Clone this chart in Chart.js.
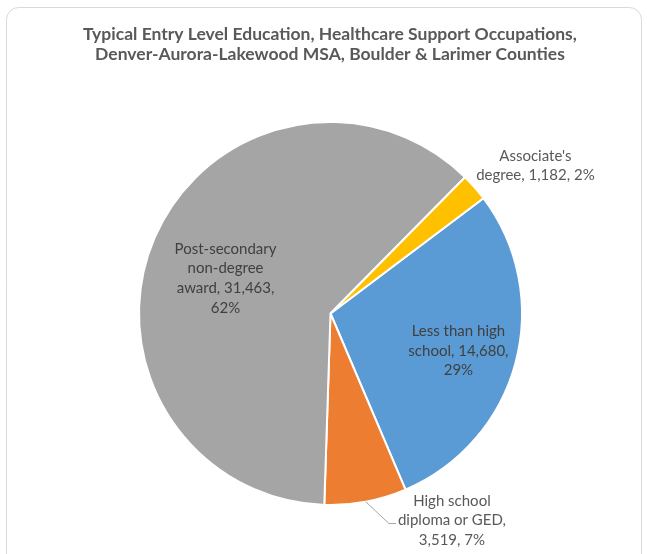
<!DOCTYPE html>
<html>
<head>
<meta charset="utf-8">
<script src="https://cdn.jsdelivr.net/npm/chart.js@4.4.0/dist/chart.umd.min.js"></script>
<style>
  html, body { margin: 0; padding: 0; background: #fff; }
  #wrap { width: 647px; height: 554px; }
</style>
</head>
<body>
<div id="wrap"><canvas id="education"></canvas></div>
<script>
const titleLines = [
  'Typical Entry Level Education, Healthcare Support Occupations,',
  'Denver-Aurora-Lakewood MSA, Boulder & Larimer Counties'
];
const categories = [
  'Less than high school',
  'High school diploma or GED',
  'Post-secondary non-degree award',
  "Associate's degree"
];
const workers = [14680, 3519, 31463, 1182];
const sliceColors = ['#5B9BD5', '#ED7D31', '#A5A5A5', '#FFC000'];
// how each data label wraps, as in the original
const labelBreaks = [
  ['Less than high', 'school, {v},', '{p}'],
  ['High school', 'diploma or GED,', '{v}, {p}'],
  ['Post-secondary', 'non-degree', 'award, {v},', '{p}'],
  ["Associate's", 'degree, {v}, {p}']
];

const total = workers.reduce((a, b) => a + b, 0);
const FONT = 'Lato, "Open Sans", sans-serif';

// label centre relative to the pie centre, in units of the radius
const labelSpots = [
  { dx: 0.668, dy: 0.195, inside: true },
  { dx: 0.634, dy: 1.081, leader: true },
  { dx: -0.548, dy: -0.183, inside: true },
  { dx: 1.07, dy: -0.772 }
];

const frame = {
  id: 'frame',
  beforeDraw(chart) {
    const ctx = chart.ctx;
    ctx.save();
    ctx.fillStyle = '#fff';
    ctx.fillRect(0, 0, chart.width, chart.height);
    ctx.strokeStyle = '#D9D9D9';
    ctx.lineWidth = 1;
    ctx.beginPath();
    ctx.roundRect(6.5, 7.5, 635, 600, 12);
    ctx.stroke();

    ctx.fillStyle = '#595959';
    ctx.font = 'bold 17.5px ' + FONT;
    ctx.textAlign = 'center';
    ctx.textBaseline = 'alphabetic';
    titleLines.forEach((t, i) => ctx.fillText(t, 330, 40 + i * 20));
    ctx.restore();
  }
};

const sliceLabels = {
  id: 'sliceLabels',
  afterDatasetsDraw(chart) {
    const ctx = chart.ctx;
    const arcs = chart.getDatasetMeta(0).data;
    ctx.save();
    ctx.font = '15px ' + FONT;
    ctx.textAlign = 'center';
    ctx.textBaseline = 'middle';
    arcs.forEach((arc, i) => {
      const { x, y, startAngle, endAngle, outerRadius } = arc.getProps(['x', 'y', 'startAngle', 'endAngle', 'outerRadius'], true);
      const spot = labelSpots[i];
      const pct = Math.round(workers[i] / total * 100) + '%';
      const val = workers[i].toLocaleString('en-US');
      const lines = labelBreaks[i].map(l => l.replace('{v}', val).replace('{p}', pct));
      const cx = x + spot.dx * outerRadius;
      const cy = y + spot.dy * outerRadius;
      const lh = 19.7;
      const top = cy - (lines.length - 1) * lh / 2;
      if (spot.leader) {
        const mid = (startAngle + endAngle) / 2;
        const w = Math.max(...lines.map(l => ctx.measureText(l).width));
        const left = cx - w / 2;
        const ly = top + lh;
        ctx.strokeStyle = '#A6A6A6';
        ctx.lineWidth = 1;
        ctx.beginPath();
        ctx.moveTo(x + Math.cos(mid) * outerRadius, y + Math.sin(mid) * outerRadius);
        ctx.lineTo(left - 9, ly + 3);
        ctx.lineTo(left - 2, ly + 3);
        ctx.stroke();
      }
      ctx.fillStyle = spot.inside ? '#404040' : '#595959';
      lines.forEach((l, k) => ctx.fillText(l, cx, top + k * lh));
    });
    ctx.restore();
  }
};

new Chart(document.getElementById('education'), {
  type: 'pie',
  data: {
    labels: categories,
    datasets: [{
      data: workers,
      backgroundColor: sliceColors,
      borderColor: '#fff',
      borderWidth: 2
    }]
  },
  options: {
    responsive: true,
    maintainAspectRatio: false,
    animation: false,
    rotation: 53,
    layout: {
      padding: { top: 121, bottom: 48, left: 138, right: 124 }
    },
    plugins: {
      legend: { display: false },
      tooltip: { enabled: false },
      title: { display: false }
    }
  },
  plugins: [frame, sliceLabels]
});
</script>
</body>
</html>
